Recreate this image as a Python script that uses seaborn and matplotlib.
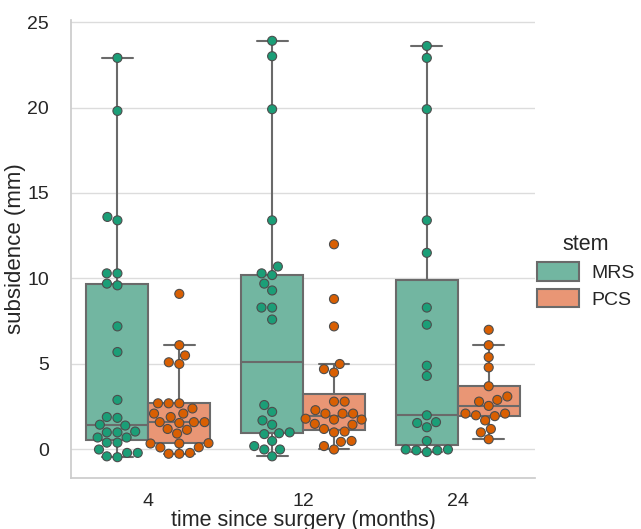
import numpy as np
import pandas as pd
import matplotlib
matplotlib.use("Agg")
import matplotlib.pyplot as plt
import seaborn as sns

# Subsidence measurements (mm) per stem type and follow-up time
times = ["4", "12", "24"]
stems = ["MRS", "PCS"]

mrs_4 = [22.9, 19.8, 13.6, 13.4, 10.3, 10.3, 9.7, 9.6, 7.2, 5.7, 2.9, 1.9, 1.85,
         1.45, 1.4, 1.05, 1.0, 1.0, 0.7, 0.7, 0.4, 0.4, 0.0, -0.2, -0.2, -0.4, -0.45]
pcs_4 = [9.1, 6.1, 5.5, 5.1, 5.0, 2.7, 2.7, 2.7, 2.4, 2.1, 2.1, 1.9, 1.6, 1.6,
         1.6, 1.55, 1.2, 1.15, 0.93, 0.37, 0.35, 0.35, 0.13, 0.12, -0.2, -0.25, -0.25]
mrs_12 = [23.9, 23.0, 19.9, 13.4, 10.7, 10.3, 10.2, 9.7, 9.3, 8.3, 8.3, 7.6,
          2.6, 2.2, 1.7, 1.45, 1.0, 0.95, 0.9, 0.5, 0.2, 0.0, 0.0, -0.4]
pcs_12 = [12.0, 8.8, 7.2, 5.0, 4.7, 4.5, 2.8, 2.8, 2.3, 2.1, 2.1, 2.1, 1.8,
          1.75, 1.75, 1.5, 1.45, 1.2, 1.05, 1.0, 0.5, 0.45, 0.2, 0.0]
mrs_24 = [23.6, 22.9, 19.9, 13.4, 11.5, 8.3, 7.3, 4.9, 4.3, 2.0, 1.6, 1.55,
          1.3, 0.5, 0.0, 0.0, -0.05, -0.05, -0.15]
pcs_24 = [7.0, 6.1, 5.4, 4.8, 3.7, 3.1, 2.9, 2.8, 2.55, 2.1, 2.1, 2.0, 1.95,
          1.7, 1.2, 1.0, 0.6]

groups = {
    ("4", "MRS"): mrs_4, ("4", "PCS"): pcs_4,
    ("12", "MRS"): mrs_12, ("12", "PCS"): pcs_12,
    ("24", "MRS"): mrs_24, ("24", "PCS"): pcs_24,
}
rows = [(t, s, v) for (t, s), vals in groups.items() for v in vals]
df = pd.DataFrame(rows, columns=["time", "stem", "subsidence"])

sns.set_theme(style="whitegrid", rc={"grid.color": "#dcdcdc"})
plt.rcParams["font.family"] = ["Liberation Sans", "DejaVu Sans"]

fig = plt.figure(figsize=(6.41, 5.29), dpi=100)
ax = fig.add_axes([0.1108, 0.0964, 0.7240, 0.8658])

sns.boxplot(data=df, x="time", y="subsidence", hue="stem", order=times,
            hue_order=stems, palette="Set2", showfliers=False,
            linewidth=1.5, linecolor="#6a6a6a", ax=ax)
sns.swarmplot(data=df, x="time", y="subsidence", hue="stem", order=times,
              hue_order=stems, palette="Dark2", dodge=True, size=6.5,
              linewidth=0.8, edgecolor="0.3", legend=False, ax=ax)

ax.set_xlabel("time since surgery (months)", fontsize=15.5, labelpad=0)
ax.set_ylabel("subsidence (mm)", fontsize=16, labelpad=1)
ax.tick_params(axis="both", labelsize=14, colors="#262626")
ax.tick_params(axis="y", pad=10)
ax.tick_params(axis="x", pad=5)
ax.set_yticks([0, 5, 10, 15, 20, 25])
sns.despine(ax=ax)

handles, labels = ax.get_legend_handles_labels()
ax.legend(handles[:2], labels[:2], title="stem", frameon=False,
          loc="center left", bbox_to_anchor=(0.81, 0.487),
          bbox_transform=fig.transFigure, fontsize=14, title_fontsize=15.5,
          handlelength=2.2, handleheight=1.1, handletextpad=0.6,
          labelspacing=0.35)

fig.savefig("out.png", dpi=100)
